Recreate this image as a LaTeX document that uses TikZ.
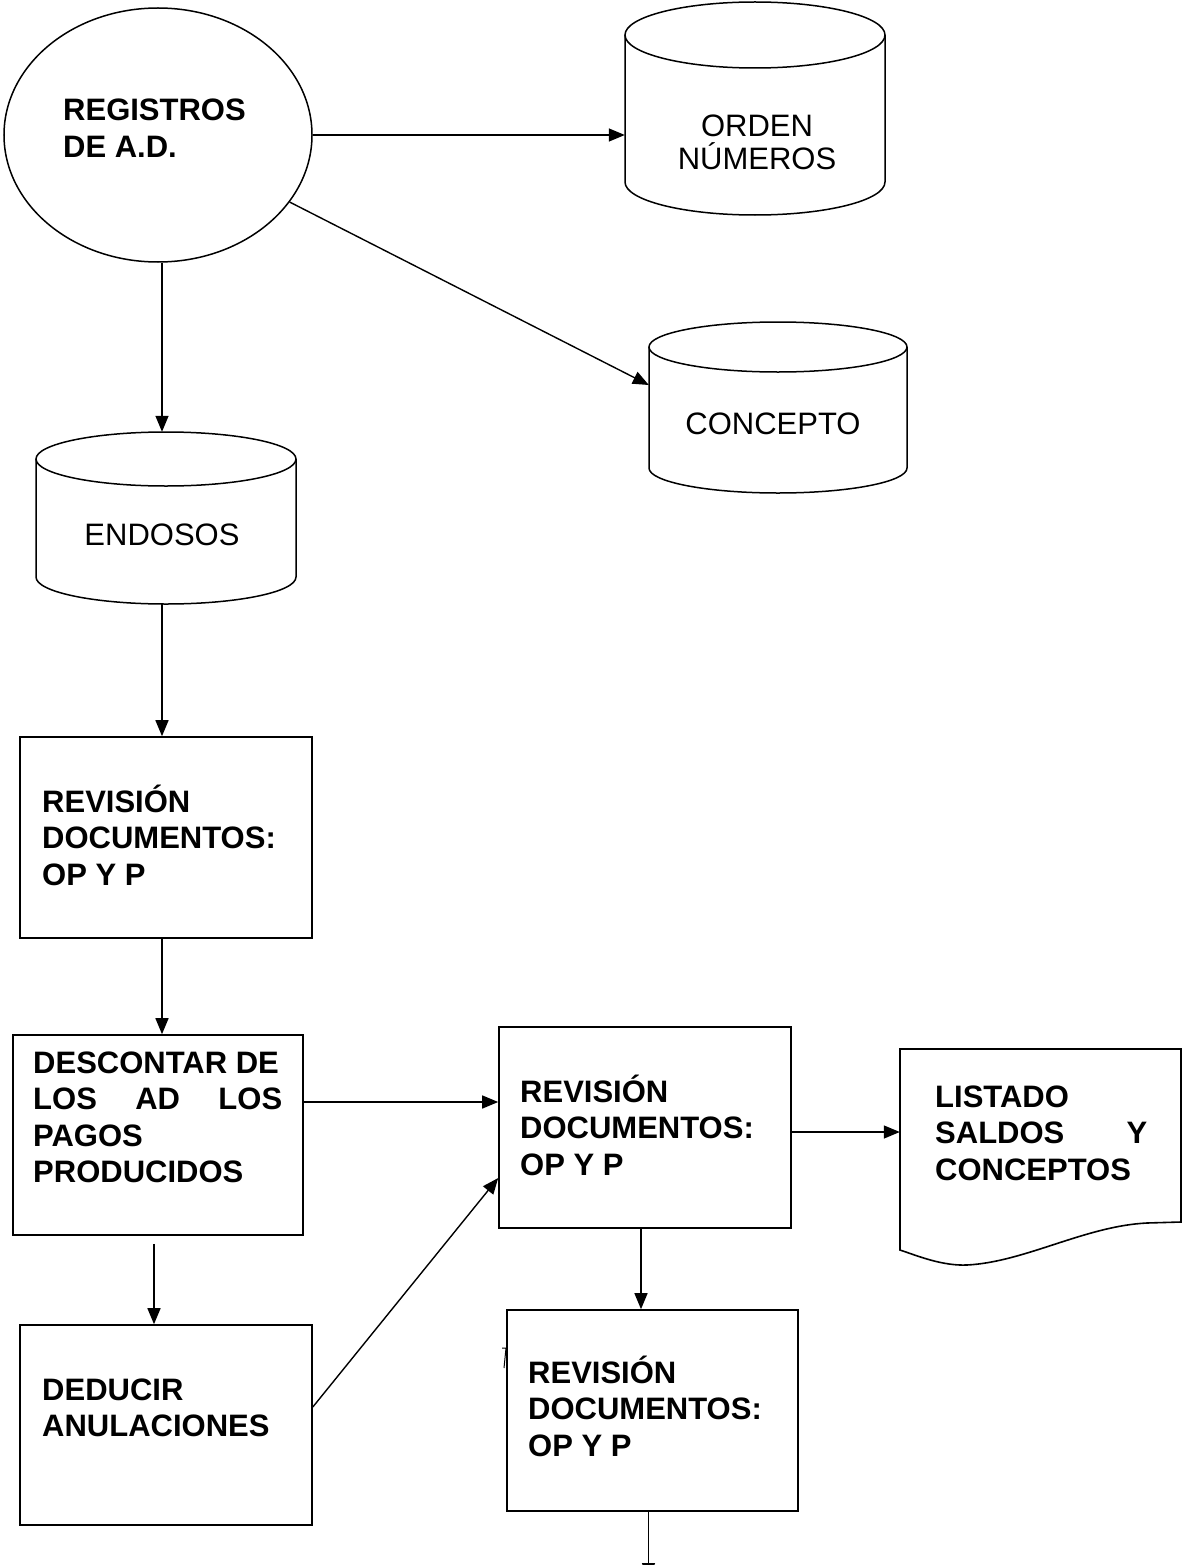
\documentclass[tikz,border=0pt]{standalone}
\usepackage{fontspec}
\setmainfont{Liberation Sans}
\usetikzlibrary{shapes.geometric,arrows.meta}

% left-aligned and centred multi-line blocks; the block's baseline is its first line
\newcommand\txtlines[1]{\vtop{\halign{##\hfil\cr#1\crcr}}}
\newcommand\ctrlines[1]{\vtop{\halign{\hfil##\hfil\cr#1\crcr}}}

% database drum: left x, right x, y of top ellipse centre, y of bottom arc centre, vertical radius
\newcommand\drum[5]{%
  \pgfmathsetmacro\dcx{(#1+#2)/2}%
  \pgfmathsetmacro\drx{(#2-#1)/2}%
  \pgfmathsetmacro\dkx{0.5523*\drx}%
  \pgfmathsetmacro\dky{0.5523*#5}%
  \draw[shapeline] (\dcx,#3) ellipse [x radius=\drx, y radius=#5];
  \draw[shapeline] (#1,#3) -- (#1,#4)
    .. controls (#1,#4+\dky) and (\dcx-\dkx,#4+#5) .. (\dcx,#4+#5)
    .. controls (\dcx+\dkx,#4+#5) and (#2,#4+\dky) .. (#2,#4) -- (#2,#3);
}

\begin{document}
\begin{tikzpicture}[x=1pt,y=-1pt,
  shapeline/.style={line width=1.5pt},
  conn/.style={line width=1.4pt},
  arr/.style={conn,-{Triangle[length=16pt,width=13pt]}},
  procbox/.style={draw,rectangle,line width=1.6pt,inner sep=0pt},
  area/.style={rectangle,inner sep=0pt},
  boldtxt/.style={inner sep=0pt,anchor=base west,font=\fontsize{31}{36.5}\selectfont\bfseries},
  plaintxt/.style={inner sep=0pt,anchor=base,font=\fontsize{31}{33}\selectfont}]

\path[use as bounding box,clip] (0,0) rectangle (1182,1565);
\fill[white] (0,0) rectangle (1182,1565);

% ---- start ellipse
\node[draw,ellipse,line width=1.5pt,inner sep=0pt,minimum width=308,minimum height=254] (ell) at (158,135) {};
\node[boldtxt] (tell) at (63,121) {\txtlines{REGISTROS\cr DE A.D.}};

% ---- data stores
\node[area,minimum width=260,minimum height=213] (ord) at (755,108.5) {};
\drum{625}{885}{35}{182}{33}
\node[plaintxt] (tord) at (757,137) {\ctrlines{ORDEN\cr NÚMEROS}};

\node[area,minimum width=258,minimum height=170] (conc) at (778,407) {};
\drum{649}{907}{347}{468}{25}
\node[plaintxt] (tconc) at (773,434) {CONCEPTO};

\node[area,minimum width=260,minimum height=171] (endo) at (166,517.5) {};
\drum{36}{296}{459}{577}{27}
\node[plaintxt] (tendo) at (162,545) {ENDOSOS};

% ---- process boxes
\node[procbox,minimum width=292,minimum height=201] (b1) at (166,837.5) {};
\node[boldtxt] (tb1) at (42,812) {\txtlines{REVISIÓN\cr DOCUMENTOS:\cr OP Y P}};

\node[procbox,minimum width=290,minimum height=200] (b2) at (158,1135) {};
\node[boldtxt] (tb2) at (33,1073) {\txtlines{DESCONTAR DE\cr \hbox to 249pt{LOS\hfill AD\hfill LOS}\cr PAGOS\cr PRODUCIDOS}};

\node[procbox,minimum width=292,minimum height=201] (b3) at (645,1127.5) {};
\node[boldtxt] (tb3) at (520,1102) {\txtlines{REVISIÓN\cr DOCUMENTOS:\cr OP Y P}};

\node[procbox,minimum width=292,minimum height=200] (b4) at (166,1425) {};
\node[boldtxt] (tb4) at (42,1400) {\txtlines{DEDUCIR\cr ANULACIONES}};

% small stray mark peeking out at the left of the last box
\draw[line width=1pt] (502,1348) -- (509,1348) (506,1348) -- (504,1368);

\node[procbox,fill=white,minimum width=291,minimum height=201] (b5) at (652.5,1410.5) {};
\node[boldtxt] (tb5) at (528,1383) {\txtlines{REVISIÓN\cr DOCUMENTOS:\cr OP Y P}};

% ---- printed report
\node[area,minimum width=281,minimum height=216] (lst) at (1040.5,1157) {};
\draw[line width=1.6pt] (900,1049) -- (1181,1049) -- (1181,1222) -- (1147,1223)
  .. controls (1085,1226) and (1025,1262) .. (967,1265)
  .. controls (942,1266) and (918,1256) .. (900,1250) -- cycle;
\node[boldtxt] (tlst) at (935,1107) {\txtlines{LISTADO\cr \hbox to 212pt{SALDOS\hfill Y}\cr CONCEPTOS}};

% ---- connectors
\draw[arr] (ell.east) -- (ell.east -| ord.west);
\draw[arr] (ell) -- ([yshift=22pt]conc.west);
\draw[arr] ([xshift=4pt]ell.south) -- ([xshift=-4pt]endo.north);
\draw[arr] ([xshift=-4pt]endo.south) -- ([xshift=-4pt]b1.north);
\draw[arr] ([xshift=-4pt]b1.south) -- ([xshift=4pt]b2.north);
\draw[arr,shorten <=8pt] ([xshift=-4pt]b2.south) -- ([xshift=-12pt]b4.north);
\draw[arr] ([yshift=33pt]b2.east) -- ([yshift=33pt]b2.east -| b3.west);
\draw[arr] ([yshift=18pt]b4.east) -- ([yshift=-50.5pt]b3.west);
\draw[arr] ([yshift=-4.5pt]b3.east) -- ([yshift=-4.5pt]b3.east -| lst.west);
\draw[arr] ([xshift=-4pt]b3.south) -- ([xshift=-4pt]b3.south |- b5.north);
\coordinate (exit) at (648.5,1579);
\draw[arr] ([xshift=-4pt]b5.south) -- (exit);

\end{tikzpicture}
\end{document}
